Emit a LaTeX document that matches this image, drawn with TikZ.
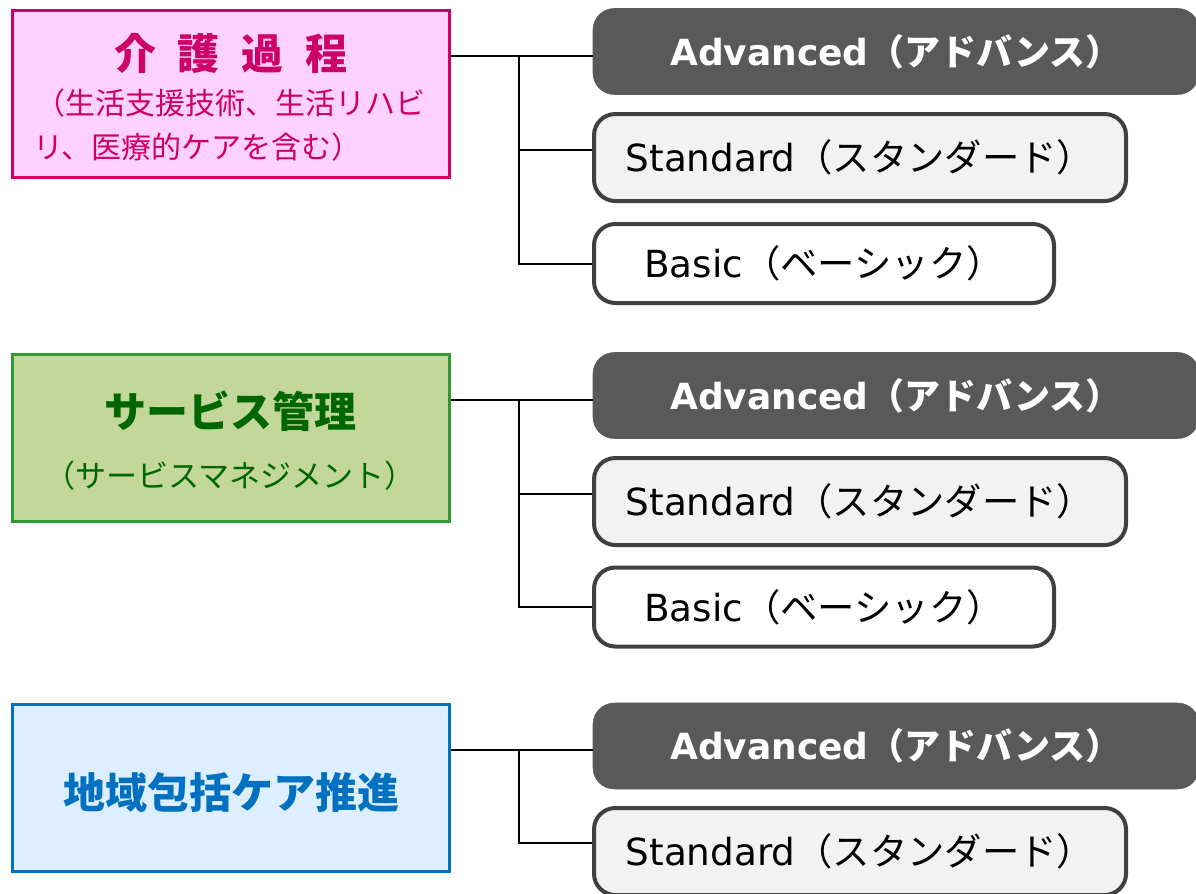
\documentclass[tikz,border=0pt]{standalone}
\usepackage{fontspec}
\setmainfont{DejaVu Sans}
\newfontfamily\cjk{Noto Sans CJK JP}
\definecolor{pinkline}{HTML}{CC0066}
\definecolor{pinkfill}{HTML}{FFD1FF}
\definecolor{greenline}{HTML}{339933}
\definecolor{greenfill}{HTML}{C4D79B}
\definecolor{greentext}{HTML}{006600}
\definecolor{blueline}{HTML}{0070C0}
\definecolor{bluefill}{HTML}{DDEEFF}
\definecolor{advfill}{HTML}{595959}
\definecolor{boxline}{HTML}{404040}
\definecolor{stdfill}{HTML}{F2F2F2}
\tikzset{
  catbox/.style={draw, line width=2.6pt, minimum width=327.75pt, minimum height=125.25pt, inner sep=0pt},
  advbox/.style={draw=advfill, fill=advfill, rounded corners=16pt, minimum width=454.5pt, minimum height=64.5pt, inner sep=0pt, text=white, font=\fontsize{27pt}{31pt}\selectfont\bfseries},
  stdbox/.style={draw=boxline, fill=stdfill, line width=3pt, rounded corners=16pt, minimum width=399pt, minimum height=65.25pt, inner sep=0pt, font=\fontsize{28pt}{32pt}\selectfont},
  basbox/.style={draw=boxline, fill=white, line width=3pt, rounded corners=16pt, minimum width=345pt, minimum height=59.25pt, inner sep=0pt, font=\fontsize{28pt}{32pt}\selectfont},
  conn/.style={line width=1.5pt, black},
  ttl/.style={inner sep=0pt, font=\cjk\fontsize{31.5pt}{36pt}\selectfont\bfseries},
  sub/.style={inner sep=0pt, font=\cjk\fontsize{22.5pt}{26pt}\selectfont}
}
\begin{document}
\begin{tikzpicture}[x=0.75pt, y=-0.75pt]
\useasboundingbox (0,0) rectangle (1196,893);
% category boxes
\node[catbox, draw=pinkline, fill=pinkfill] (p1) at (231,94) {};
\node[catbox, draw=greenline, fill=greenfill] (p2) at (231,438) {};
\node[catbox, draw=blueline, fill=bluefill] (p3) at (231,788) {};
% titles
\node[ttl, text=pinkline] (t1) at (231,53) {介\hspace{16.5pt}護\hspace{16.5pt}過\hspace{16.5pt}程};
\node[sub, text=pinkline, anchor=west] (u1) at (35,103) {（生活支援技術、生活リハビ};
\node[sub, text=pinkline, anchor=west] (u2) at (33,147) {リ、医療的ケアを含む）};
\node[ttl, text=greentext] (t2) at (230,411) {サービス管理};
\node[sub, text=greentext, font=\cjk\fontsize{23.3pt}{27pt}\selectfont] (u3) at (230,476) {（サービスマネジメント）};
\node[ttl, text=blueline] (t3) at (231,792) {地域包括ケア推進};
% level boxes group 1
\node[advbox] (a1) at (896,51.5) {Advanced\cjk（アドバンス）};
\node[stdbox] (s1) at (860,157.5) {Standard\cjk（スタンダード）\hspace{8pt}};
\node[basbox] (b1) at (824,263.5) {Basic\cjk（ベーシック）\hspace{6pt}};
% group 2
\node[advbox] (a2) at (896,395.5) {Advanced\cjk（アドバンス）};
\node[stdbox] (s2) at (860,501.5) {Standard\cjk（スタンダード）\hspace{8pt}};
\node[basbox] (b2) at (824,607) {Basic\cjk（ベーシック）\hspace{6pt}};
% group 3
\node[advbox] (a3) at (896,746) {Advanced\cjk（アドバンス）};
\node[stdbox] (s3) at (860,851.5) {Standard\cjk（スタンダード）\hspace{8pt}};
% connectors
\coordinate (j1) at (519,56);
\coordinate (k1) at (519,150);
\coordinate (m1) at (519,263.5);
\draw[conn] (p1.east |- j1) -- (a1.west |- j1);
\draw[conn] (j1) -- (m1) -- (b1.west |- m1);
\draw[conn] (k1) -- (s1.west |- k1);
\coordinate (j2) at (519,400);
\coordinate (k2) at (519,494);
\coordinate (m2) at (519,607);
\draw[conn] (p2.east |- j2) -- (a2.west |- j2);
\draw[conn] (j2) -- (m2) -- (b2.west |- m2);
\draw[conn] (k2) -- (s2.west |- k2);
\coordinate (j3) at (519,750);
\coordinate (k3) at (519,843);
\draw[conn] (p3.east |- j3) -- (a3.west |- j3);
\draw[conn] (j3) -- (k3) -- (s3.west |- k3);
\end{tikzpicture}
\end{document}
